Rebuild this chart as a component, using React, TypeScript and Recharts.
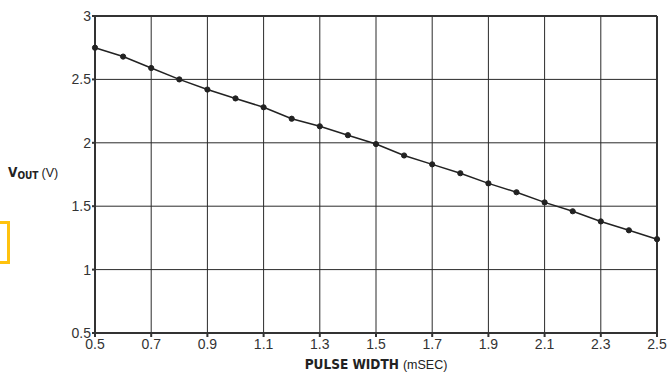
import React from "react";
import { LineChart, Line, XAxis, YAxis, CartesianGrid, ReferenceLine } from "recharts";

const pulseWidth = [0.5, 0.6, 0.7, 0.8, 0.9, 1.0, 1.1, 1.2, 1.3, 1.4, 1.5, 1.6, 1.7, 1.8, 1.9, 2.0, 2.1, 2.2, 2.3, 2.4, 2.5];
const vout = [2.75, 2.68, 2.59, 2.5, 2.42, 2.35, 2.28, 2.19, 2.13, 2.06, 1.99, 1.9, 1.83, 1.76, 1.68, 1.61, 1.53, 1.46, 1.38, 1.31, 1.24];
const xTicks = [0.5, 0.7, 0.9, 1.1, 1.3, 1.5, 1.7, 1.9, 2.1, 2.3, 2.5];
const yTicks = [0.5, 1, 1.5, 2, 2.5, 3];

const data = pulseWidth.map((x, i) => ({ x, v: vout[i] }));

const FONT = "'Liberation Sans', Arial, sans-serif";
const NARROW = "'Liberation Sans Narrow', 'DejaVu Sans Condensed', sans-serif";
const INK = "#222";

function XLabel() {
  return (
    <text x={376} y={369} textAnchor="middle" fill={INK} fontSize={12.5}>
      <tspan fontFamily={NARROW} fontWeight={700} fontSize={13.5}>PULSE WIDTH</tspan>
      <tspan fontFamily={FONT} dx={4}>(mSEC)</tspan>
    </text>
  );
}

function YLabel() {
  return (
    <text x={8} y={177} fill={INK} fontSize={12.5}>
      <tspan fontFamily={NARROW} fontWeight={700} fontSize={13.5}>V</tspan>
      <tspan fontFamily={NARROW} fontWeight={700} fontSize={10} dy={2}>OUT</tspan>
      <tspan fontFamily={FONT} dy={-2} dx={3}>(V)</tspan>
    </text>
  );
}

export default function App() {
  return (
    <div style={{ position: "absolute", left: 0, top: 0, width: 667, height: 373, background: "#fff" }}>
      <div
        style={{
          position: "absolute",
          left: -20,
          top: 221,
          width: 24,
          height: 37,
          border: "3px solid #FFC20E",
        }}
      />
      <LineChart
        width={667}
        height={373}
        data={data}
        margin={{ top: 16, right: 10, left: 0, bottom: 20 }}
      >
        <CartesianGrid stroke="#2a2a2a" strokeWidth={1} />
        <XAxis
          dataKey="x"
          type="number"
          domain={[0.5, 2.5]}
          ticks={xTicks}
          interval={0}
          height={20}
          stroke="#333"
          strokeWidth={2}
          tickSize={4}
          tickMargin={2}
          tick={{ fontSize: 14, fill: "#333", fontFamily: FONT }}
          tickFormatter={(v: number) => String(v)}
          label={{ content: () => <XLabel /> }}
        />
        <YAxis
          type="number"
          domain={[0.5, 3]}
          ticks={yTicks}
          interval={0}
          width={95}
          stroke="#333"
          strokeWidth={2}
          tickSize={3}
          tickMargin={1}
          tick={{ fontSize: 14, fill: "#333", fontFamily: FONT }}
          label={{ content: () => <YLabel /> }}
        />
        <ReferenceLine y={3} stroke="#333" strokeWidth={2} />
        <ReferenceLine x={2.5} stroke="#333" strokeWidth={2} />
        <Line
          type="linear"
          dataKey="v"
          stroke={INK}
          strokeWidth={1.5}
          dot={{ r: 2.6, fill: INK, stroke: INK, strokeWidth: 1 }}
          isAnimationActive={false}
        />
      </LineChart>
    </div>
  );
}
